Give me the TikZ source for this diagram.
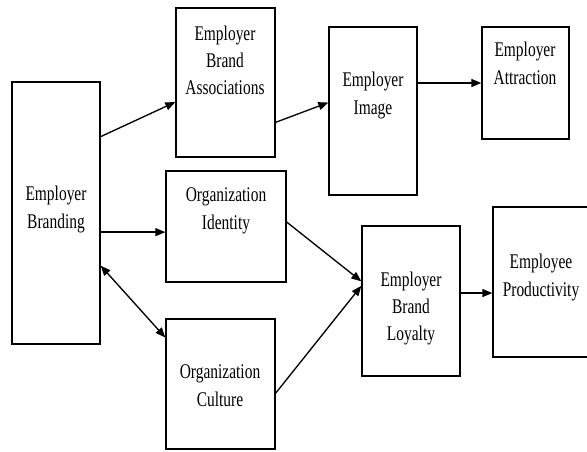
\documentclass[tikz,border=0pt]{standalone}
\usepackage{fontspec}
\setmainfont{Liberation Serif}
\usepackage{graphicx}
\usetikzlibrary{arrows.meta,fit,calc}

\newcommand{\boxtext}[1]{\scalebox{1}[1.35]{\begin{tabular}{@{}c@{}}#1\end{tabular}}}

\tikzset{every picture/.style={line width=1pt}}
\tikzset{
  blk/.style={draw, inner sep=0pt},
  txt/.style={inner sep=0pt, font=\fontsize{11.6}{15.2}\selectfont},
  arr/.style={-{Triangle[length=7.5pt,width=6pt]}},
  dbl/.style={{Triangle[length=7.5pt,width=6pt]}-{Triangle[length=7.5pt,width=6pt]}}
}

\begin{document}
\begin{tikzpicture}[x=0.75pt,y=0.75pt,yscale=-1,xscale=1]
\clip (0,0) rectangle (587,451);

%Shape: Rectangle
\node[blk, fit={(12,82) (100,344)}] (eb) {};
%Shape: Rectangle
\node[blk, fit={(176,8) (275,157)}] (eba) {};
%Shape: Rectangle
\node[blk, fit={(329,27) (417,195)}] (ei) {};
%Shape: Rectangle
\node[blk, fit={(482,27) (569,139)}] (ea) {};
%Shape: Rectangle
\node[blk, fit={(166,171) (286,282)}] (oi) {};
%Shape: Rectangle
\node[blk, fit={(166,319) (275,449)}] (oc) {};
%Shape: Rectangle
\node[blk, fit={(362,226) (460,376)}] (ebl) {};
%Shape: Rectangle
\node[blk, fit={(493,207) (597,357)}] (ep) {};

% Text Node
\node[txt] (eb-t) at (56,209) {\boxtext{Employer\\Branding}};
% Text Node
\node[txt] (eba-t) at (225,62) {\boxtext{Employer\\Brand\\Associations}};
% Text Node
\node[txt] (ei-t) at (373,95) {\boxtext{Employer\\Image}};
% Text Node
\node[txt] (ea-t) at (525,65) {\boxtext{Employer\\Attraction}};
% Text Node
\node[txt] (oi-t) at (226,210) {\boxtext{Organization\\Identity}};
% Text Node
\node[txt] (oc-t) at (220,387) {\boxtext{Organization\\Culture}};
% Text Node
\node[txt] (ebl-t) at (411,308) {\boxtext{Employer\\Brand\\Loyalty}};
% Text Node
\node[txt] (ep-t) at (541,277) {\boxtext{Employee\\Productivity}};

% end points on the box borders
\coordinate (eb-a) at ($(eb.north east)!0.21!(eb.south east)$);
\coordinate (eb-c) at ($(eb.north east)!0.70!(eb.south east)$);
\coordinate (eba-in) at ($(eba.north west)!0.63!(eba.south west)$);
\coordinate (eba-out) at ($(eba.north east)!0.765!(eba.south east)$);
\coordinate (ei-in) at ($(ei.north west)!0.45!(ei.south west)$);
\coordinate (oi-in) at ($(oi.north west)!0.55!(oi.south west)$);
\coordinate (oi-out) at ($(oi.north east)!0.46!(oi.south east)$);
\coordinate (oc-in) at ($(oc.north west)!0.146!(oc.south west)$);
\coordinate (oc-out) at ($(oc.north east)!0.57!(oc.south east)$);
\coordinate (ebl-a) at ($(ebl.north west)!0.37!(ebl.south west)$);
\coordinate (ebl-b) at ($(ebl.north west)!0.40!(ebl.south west)$);
\coordinate (ep-in) at ($(ep.north west)!0.573!(ep.south west)$);

%Straight Lines
\draw[arr] (eb-a) -- (eba-in);
%Straight Lines
\draw[arr] (eba-out) -- (ei-in);
%Straight Lines
\draw[arr] (ea.west -| ei.east) -- (ea.west);
%Straight Lines
\draw[arr] (oi-in -| eb.east) -- (oi-in);
%Straight Lines
\draw[dbl] (eb-c) -- (oc-in);
%Straight Lines
\draw[arr] (oi-out) -- (ebl-a);
%Straight Lines
\draw[arr] (oc-out) -- (ebl-b);
%Straight Lines
\draw[arr] (ep-in -| ebl.east) -- (ep-in);

\end{tikzpicture}
\end{document}
